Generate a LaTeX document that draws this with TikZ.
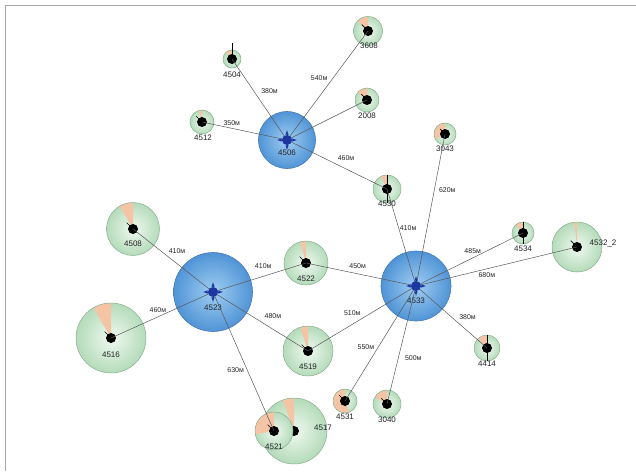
\documentclass[tikz,border=0pt]{standalone}
\usepackage{fontspec}
\setmainfont{Liberation Sans}
\usetikzlibrary{arrows}
\definecolor{bleuin}{RGB}{160,206,242}
\definecolor{bleuout}{RGB}{80,148,214}
\definecolor{bleubord}{RGB}{72,122,184}
\definecolor{bleumarq}{RGB}{30,55,160}
\definecolor{vertin}{RGB}{240,249,240}
\definecolor{vertout}{RGB}{180,219,186}
\definecolor{vertbord}{RGB}{135,175,142}
\definecolor{peche}{RGB}{245,196,165}
\definecolor{texte}{RGB}{35,35,40}
\definecolor{cadre}{RGB}{168,168,168}
\tikzset{
    hub style/.style={circle,draw=bleubord,line width=0.6pt,inner sep=0pt,
        inner color=bleuin,outer color=bleuout},
    leaf style/.style={circle,inner sep=0pt,inner color=vertin,outer color=vertout},
    leaf border/.style={draw=vertbord,line width=0.5pt},
    wedge style/.style={fill=peche},
    dot style/.style={circle,fill=black,inner sep=0pt,minimum size=10pt},
    needle style/.style={draw=black,line width=0.7pt},
    marker style/.style={circle,fill=bleumarq,inner sep=0pt,minimum size=10pt},
    marker line/.style={draw=bleumarq,line width=0.6pt},
    link style/.style={draw=black!65,line width=0.5pt},
    name style/.style={font=\fontsize{8}{8}\selectfont,text=texte,inner sep=1pt},
    dist style/.style={font=\fontsize{7}{7}\selectfont,text=texte,inner sep=1pt},
}
% #1 nom, #2 position, #3 rayon, #4 secteur, #5 aiguille, #6 etiquette, #7 decalage
\newcommand{\feuille}[7]{%
  \node[leaf style,minimum size=2*#3pt] (#1) at (#2) {};
  \fill[wedge style] (#1.center) -- ++(90:#3pt)
      arc[start angle=90,delta angle=#4,radius=#3pt] -- cycle;
  \draw[leaf border] (#1.center) circle[radius=#3pt];
  \node[dot style] (#1-dot) at (#1.center) {};
  \draw[needle style] (#1.center) -- ++(#5);
  \node[name style] (#1-nom) at ([shift={(#7)}]#1.center) {#6};
}

\begin{document}
\begin{tikzpicture}[x=1pt,y=-1pt,>=latex]
\useasboundingbox (0,0) rectangle (636,471);
% le cadre
\draw[cadre,line width=1.3pt] (5.5,471) -- (5.5,5.5) -- (636,5.5);

% les noeuds principaux
\node[hub style,minimum size=57pt] (h4506) at (287,140) {};
\node[name style] (h4506-nom) at ([yshift=-13pt]h4506.center) {4506};
\node[hub style,minimum size=79pt] (h4523) at (213,292) {};
\node[name style] (h4523-nom) at ([yshift=-16pt]h4523.center) {4523};
\node[hub style,minimum size=70pt] (h4533) at (416,286) {};
\node[name style] (h4533-nom) at ([yshift=-15pt]h4533.center) {4533};

% les feuilles
\feuille{f4504}{232,59}{9}{40}{90:16pt}{4504}{0,16}
\feuille{f3608}{368,31}{14.5}{45}{135:9pt}{3608}{1,15}
\feuille{f2008}{367,100}{12}{50}{135:8pt}{2008}{0,16}
\feuille{f4512}{202,122}{12}{15}{135:8pt}{4512}{1,16}
\feuille{f4530}{387,189}{14}{25}{90:14pt}{4530}{0,15}
\feuille{f3043}{445,134}{11}{120}{135:7pt}{3043}{0,15}
\feuille{f4534}{523,233}{11}{40}{90:11pt}{4534}{0,16}
\feuille{f4532}{577,247}{25}{6}{135:9pt}{4532\_2}{26,-4}
\feuille{f4414}{487,348}{13}{45}{90:13pt}{4414}{0,16}
\feuille{f3040}{387,404}{14}{60}{135:8pt}{3040}{0,16}
\feuille{f4531}{345,401}{12}{200}{135:8pt}{4531}{0,16}
\feuille{f4519}{308,351}{25}{18}{135:9pt}{4519}{0,16}
\feuille{f4522}{306,263}{22}{15}{135:9pt}{4522}{0,16}
\feuille{f4508}{133,229}{26.5}{30}{135:9pt}{4508}{0,15}
\feuille{f4516}{111,338}{35}{30}{135:9pt}{4516}{0,17}
\feuille{f4517}{294,431}{33}{20}{135:9pt}{4517}{29,-3}
\feuille{f4521}{274,431}{19}{100}{135:9pt}{4521}{0,16}
\draw[needle style] (f4530.north) -- (f4530.south);
\draw[needle style] (f4414.north) -- (f4414.south);
\draw[needle style] (f4534.north) -- (f4534.south);

% les liens
\draw[link style] (h4506.center) -- (f4504.center)
    node[dist style,pos=.6,right=6pt] (d1) {380м};
\draw[link style] (h4506.center) -- (f3608.center)
    node[dist style,pos=.57,left=4.5pt] (d2) {540м};
\draw[link style] (h4506.center) -- (f2008.center);
\draw[link style] (h4506.center) -- (f4512.center)
    node[dist style,pos=.65,above=1.5pt] (d3) {350м};
\draw[link style] (h4506.center) -- (f4530.center)
    node[dist style,pos=.59,above=7pt] (d4) {460м};
\draw[link style] (h4533.center) -- (f4530.center)
    node[dist style,pos=.6,right=0pt] (d5) {410м};
\draw[link style] (h4533.center) -- (f3043.center)
    node[dist style,pos=.63,right=3.5pt] (d6) {620м};
\draw[link style] (h4533.center) -- (f4534.center)
    node[dist style,pos=.53,above=3.5pt] (d7) {485м};
\draw[link style] (h4533.center) -- (f4532.center)
    node[dist style,pos=.44,below=2.5pt] (d8) {680м};
\draw[link style] (h4533.center) -- (f4414.center)
    node[dist style,pos=.5,right=6.5pt] (d9) {380м};
\draw[link style] (h4533.center) -- (f3040.center)
    node[dist style,pos=.61,right=5.5pt] (d10) {500м};
\draw[link style] (h4533.center) -- (f4531.center)
    node[dist style,pos=.53,left=3pt] (d11) {550м};
\draw[link style] (h4533.center) -- (f4519.center)
    node[dist style,pos=.59,above=8pt] (d12) {510м};
\draw[link style] (h4533.center) -- (f4522.center)
    node[dist style,pos=.53,above=3.5pt] (d13) {450м};
\draw[link style] (h4523.center) -- (f4522.center)
    node[dist style,pos=.54,above=7pt] (d14) {410м};
\draw[link style] (h4523.center) -- (f4519.center)
    node[dist style,pos=.63,above=9.5pt] (d15) {480м};
\draw[link style] (h4523.center) -- (f4508.center)
    node[dist style,pos=.45,above=9pt] (d16) {410м};
\draw[link style] (h4523.center) -- (f4516.center)
    node[dist style,pos=.54,above=3.5pt] (d17) {460м};
\draw[link style] (h4523.center) -- (f4521.center)
    node[dist style,pos=.56,left=2pt] (d18) {630м};

% les marqueurs
\foreach \h in {h4506,h4523,h4533}{
  \draw[<->,marker line] ([xshift=-10pt]\h.center) -- ([xshift=10pt]\h.center);
  \draw[<->,marker line] ([yshift=-10pt]\h.center) -- ([yshift=10pt]\h.center);
  \node[marker style] (\h-m) at (\h.center) {};
}
\end{tikzpicture}
\end{document}
